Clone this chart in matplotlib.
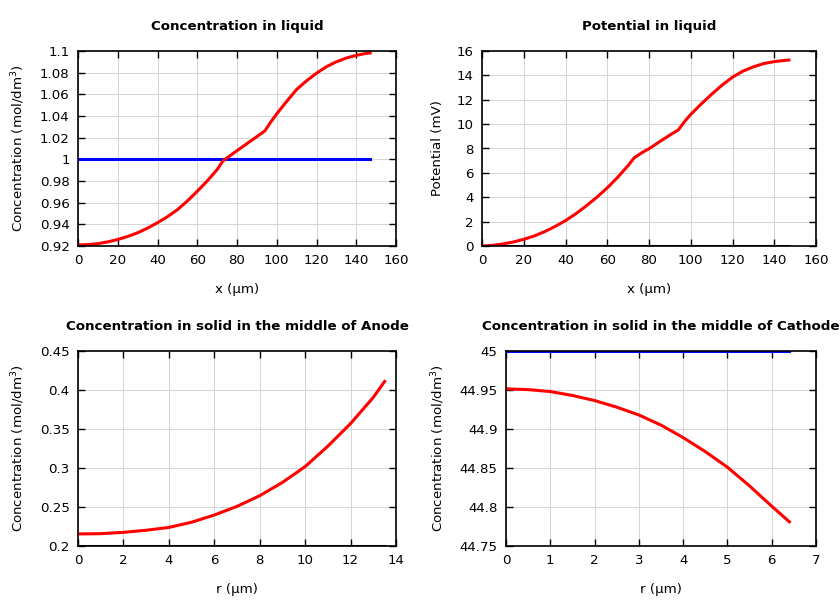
import numpy as np
import matplotlib
matplotlib.use('Agg')
import matplotlib.pyplot as plt
from matplotlib.ticker import FuncFormatter

# concentration in liquid (mol/dm3) vs x (um)
x_cl = [0, 5, 10, 15, 20, 25, 30, 35, 40, 45, 50, 55, 60, 65, 70, 73, 77, 80, 85, 90, 94,
        97, 100, 105, 110, 115, 120, 125, 130, 135, 140, 145, 147]
c_liq = [0.921, 0.9213, 0.9222, 0.9238, 0.926, 0.9288, 0.9322, 0.9365, 0.9415, 0.947, 0.9535,
         0.9615, 0.9705, 0.980, 0.9905, 0.9987, 1.004, 1.008, 1.0145, 1.021, 1.0262,
         1.0345, 1.042, 1.0535, 1.0645, 1.0725, 1.0795, 1.0855, 1.090, 1.0935, 1.096, 1.0978, 1.0982]
c_liq0 = [1.0, 1.0]
x_ends = [0, 147]

# potential in liquid (mV)
x_pl = [0, 5, 10, 15, 20, 25, 30, 35, 40, 45, 50, 55, 60, 65, 70, 73, 77, 80, 85, 90, 94,
        97, 100, 105, 110, 115, 120, 125, 130, 135, 140, 145, 147]
pot = [0.0, 0.05, 0.17, 0.33, 0.55, 0.82, 1.18, 1.6, 2.08, 2.65, 3.3, 4.0, 4.77, 5.64, 6.6, 7.25,
       7.7, 7.98, 8.55, 9.1, 9.52, 10.2, 10.8, 11.65, 12.45, 13.2, 13.85, 14.35, 14.7, 14.97,
       15.13, 15.23, 15.26]
pot0 = [0.0, 0.0]

# anode solid
r_an = [0.1, 1, 2, 3, 4, 5, 6, 7, 8, 9, 10, 11, 12, 13, 13.5]
c_an = [0.2155, 0.2158, 0.2175, 0.2202, 0.2238, 0.2305, 0.2397, 0.2508, 0.2645, 0.2815,
        0.3018, 0.328, 0.357, 0.3905, 0.411]
c_an0 = [0.2, 0.2]
r_an_ends = [0, 13.5]

# cathode solid
r_ca = [0, 0.5, 1, 1.5, 2, 2.5, 3, 3.5, 4, 4.5, 5, 5.5, 6, 6.4]
c_ca = [44.9515, 44.9505, 44.948, 44.943, 44.9365, 44.928, 44.918, 44.905, 44.889, 44.871,
        44.851, 44.827, 44.801, 44.781]
c_ca0 = [45.0, 45.0]
r_ca_ends = [0, 6.4]

conc_lbl = 'Concentration (mol/dm$^3$)'
FS = 9.6

fig = plt.figure(figsize=(8.4, 6), dpi=100, facecolor='w')
W, H = 840., 600.

def mkax(l, r, t, b):
    return fig.add_axes([l/W, 1-b/H, (r-l)/W, (b-t)/H])

def style(ax, title, xlabel, ylabel):
    ax.set_title(title, fontsize=FS, weight='bold', pad=15)
    ax.set_xlabel(xlabel, fontsize=FS, labelpad=11)
    ax.set_ylabel(ylabel, fontsize=FS, labelpad=9)
    ax.tick_params(direction='in', top=True, right=True, labelsize=FS, length=5, width=1, pad=6)
    ax.grid(True, color='#d4d4d4', linewidth=0.7)
    ax.set_axisbelow(True)
    for s in ax.spines.values():
        s.set_linewidth(1.2)
        s.set_zorder(2.5)
    ax.yaxis.set_major_formatter(FuncFormatter(lambda v, p: '%g' % round(v, 6)))

ax = mkax(78, 396, 51, 246)
ax.plot(x_ends, c_liq0, color='b', lw=2.2)
ax.plot(x_cl, c_liq, color='r', lw=2.2)
ax.set_xlim(0, 160); ax.set_ylim(0.92, 1.1)
ax.set_xticks(np.arange(0, 161, 20)); ax.set_yticks(np.arange(0.92, 1.1001, 0.02))
style(ax, 'Concentration in liquid', 'x (µm)', conc_lbl)

ax = mkax(482, 816, 51, 246)
ax.plot(x_ends, pot0, color='b', lw=2.2)
ax.plot(x_ends, pot0, color='k', lw=1.2)
ax.plot(x_pl, pot, color='r', lw=2.2)
ax.set_xlim(0, 160); ax.set_ylim(0, 16)
ax.set_xticks(np.arange(0, 161, 20)); ax.set_yticks(np.arange(0, 17, 2))
style(ax, 'Potential in liquid', 'x (µm)', 'Potential (mV)')

ax = mkax(78, 396, 351, 546)
ax.plot(r_an_ends, c_an0, color='b', lw=2.2)
ax.plot(r_an_ends, c_an0, color='k', lw=1.2)
ax.plot(r_an, c_an, color='r', lw=2.2)
ax.set_xlim(0, 14); ax.set_ylim(0.2, 0.45)
ax.set_xticks(np.arange(0, 15, 2)); ax.set_yticks(np.arange(0.2, 0.4501, 0.05))
style(ax, 'Concentration in solid in the middle of Anode', 'r (µm)', conc_lbl)

ax = mkax(506, 816, 351, 546)
ax.plot(r_ca_ends, c_ca0, color='b', lw=2.2)
ax.plot(r_ca, c_ca, color='r', lw=2.2)
ax.set_xlim(0, 7); ax.set_ylim(44.75, 45)
ax.set_xticks(np.arange(0, 8, 1)); ax.set_yticks(np.arange(44.75, 45.001, 0.05))
style(ax, 'Concentration in solid in the middle of Cathode', 'r (µm)', conc_lbl)

fig.savefig('out.png', dpi=100)
